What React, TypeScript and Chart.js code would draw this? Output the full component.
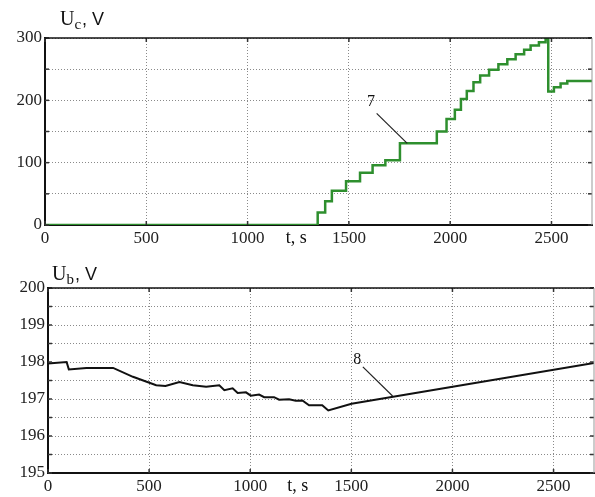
import React, { useEffect, useRef } from 'react';
import { Chart, registerables } from 'chart.js';
Chart.register(...registerables);

// Top panel: capacitor voltage Uc (stepped)
const ucTime = [0, 1346, 1383, 1416, 1486, 1555, 1617, 1680, 1752, 1934, 1982, 2023, 2053, 2082, 2115, 2148, 2192, 2238, 2282, 2323, 2365, 2397, 2438, 2471, 2484, 2512, 2545, 2578, 2700];
const ucVolt = [0, 20, 38, 55, 70, 84, 96, 104, 131, 150, 170, 185, 202, 215, 229, 240, 249, 258, 266, 274, 281, 288, 293, 298, 214, 221, 227, 231, 231];

// Bottom panel: battery voltage Ub
const ubTime = [0, 92, 103, 190, 322, 420, 535, 581, 650, 716, 782, 847, 872, 913, 938, 979, 1003, 1044, 1069, 1118, 1143, 1192, 1225, 1258, 1291, 1356, 1386, 1501, 2700];
const ubVolt = [197.96, 198.0, 197.8, 197.84, 197.84, 197.6, 197.37, 197.35, 197.46, 197.37, 197.33, 197.37, 197.24, 197.29, 197.16, 197.18, 197.09, 197.12, 197.05, 197.05, 196.98, 196.99, 196.95, 196.96, 196.83, 196.83, 196.69, 196.87, 197.97];

const xTicks = [0, 500, 1000, 1500, 2000, 2500];
const xMax = 2700;
const ucTicks = [0, 50, 100, 150, 200, 250, 300];
const ucLabels = ['0', '', '100', '', '200', '', '300'];
const ubTicks = [195, 195.5, 196, 196.5, 197, 197.5, 198, 198.5, 199, 199.5, 200];
const ubLabels = ['195', '', '196', '', '197', '', '198', '', '199', '', '200'];

// Annotations: label position and leader line (data coords)
const annot7 = { text: '7', label: [1609, 198], from: [1637, 179], to: [1788, 131] };
const annot8 = { text: '8', label: [1529, 198.05], from: [1557, 197.87], to: [1704, 197.08] };

const SERIF = '"Liberation Serif", "DejaVu Serif", serif';
const SANS = '"Liberation Sans", Arial, sans-serif';
const GRID = '#8a8a8a';

const overlay = {
  id: 'overlay',
  afterDraw(chart: any, _args: any, opts: any) {
    const { ctx, chartArea: a, scales } = chart;
    const x = scales.x;
    const y = scales.y;
    ctx.save();
    const seg = (x1: number, y1: number, x2: number, y2: number) => {
      ctx.beginPath();
      ctx.moveTo(x1, y1);
      ctx.lineTo(x2, y2);
      ctx.stroke();
    };
    // inward tick marks
    ctx.strokeStyle = '#333';
    ctx.lineWidth = 1.5;
    y.ticks.forEach((t: any) => {
      const py = y.getPixelForValue(t.value);
      seg(a.left, py, a.left + 4, py);
      seg(a.right - 4, py, a.right, py);
    });
    x.ticks.forEach((t: any) => {
      const px = x.getPixelForValue(t.value);
      seg(px, a.top, px, a.top + 4);
      seg(px, a.bottom - 4, px, a.bottom);
    });
    // frame: top and right
    ctx.strokeStyle = '#111';
    ctx.lineWidth = 1.6;
    seg(a.left, a.top, a.right, a.top);
    ctx.strokeStyle = '#999';
    ctx.lineWidth = 1;
    seg(a.right, a.top, a.right, a.bottom);

    // axis title with subscript
    ctx.fillStyle = '#111';
    ctx.textBaseline = 'alphabetic';
    ctx.textAlign = 'left';
    let tx = opts.titleX;
    const ty = opts.titleY;
    ctx.font = '20px ' + SERIF;
    ctx.fillText('U', tx, ty);
    tx += ctx.measureText('U').width;
    ctx.font = '15px ' + SERIF;
    ctx.fillText(opts.sub, tx, ty + 4);
    tx += ctx.measureText(opts.sub).width + 1;
    ctx.font = '18px ' + SANS;
    ctx.fillText(', V', tx, ty);

    // t, s label on x axis row
    ctx.font = '18px ' + SERIF;
    ctx.textAlign = 'center';
    ctx.fillText('t, s', x.getPixelForValue(opts.tAt), a.bottom + opts.tDy);

    // annotation
    const an = opts.annot;
    ctx.font = '16px ' + SERIF;
    ctx.textAlign = 'center';
    ctx.textBaseline = 'middle';
    ctx.fillText(an.text, x.getPixelForValue(an.label[0]), y.getPixelForValue(an.label[1]));
    ctx.strokeStyle = '#222';
    ctx.lineWidth = 1.2;
    seg(x.getPixelForValue(an.from[0]), y.getPixelForValue(an.from[1]), x.getPixelForValue(an.to[0]), y.getPixelForValue(an.to[1]));
    ctx.restore();
  },
};

function makeConfig(opts: any) {
  const data = opts.xs.map((t: number, i: number) => ({ x: t, y: opts.ys[i] }));
  return {
    type: 'line',
    data: {
      datasets: [
        {
          data,
          borderColor: opts.color,
          borderWidth: opts.lineWidth,
          pointRadius: 0,
          stepped: opts.stepped,
          tension: 0,
          fill: false,
        },
      ],
    },
    options: {
      animation: false,
      responsive: false,
      events: [],
      layout: { padding: { top: opts.padTop, right: opts.padRight, left: 0, bottom: 0 } },
      plugins: {
        legend: { display: false },
        tooltip: { enabled: false },
        overlay: opts.overlay,
      },
      scales: {
        x: {
          type: 'linear',
          min: 0,
          max: xMax,
          afterBuildTicks: (s: any) => {
            s.ticks = xTicks.map((v) => ({ value: v }));
          },
          afterFit: (s: any) => {
            s.height = opts.xHeight;
          },
          ticks: {
            autoSkip: false,
            maxRotation: 0,
            padding: 3,
            color: '#222',
            font: { family: SERIF, size: 17 },
            callback: (v: number) => String(v),
          },
          grid: { color: GRID, lineWidth: 1, drawTicks: false },
          border: { display: true, color: '#111', width: 2, dash: [1, 2] },
        },
        y: {
          type: 'linear',
          min: opts.yTicks[0],
          max: opts.yTicks[opts.yTicks.length - 1],
          afterBuildTicks: (s: any) => {
            s.ticks = opts.yTicks.map((v: number) => ({ value: v }));
          },
          afterFit: (s: any) => {
            s.width = opts.yWidth;
          },
          ticks: {
            autoSkip: false,
            padding: 3,
            color: '#222',
            font: { family: SERIF, size: 17 },
            callback: (_v: number, i: number) => opts.yLabels[i] ?? '',
          },
          grid: { color: GRID, lineWidth: 1, drawTicks: false },
          border: { display: true, color: '#111', width: 2, dash: [1, 2] },
        },
      },
    },
    plugins: [overlay],
  } as any;
}

function Panel(props: { height: number; cfg: any }) {
  const ref = useRef<HTMLCanvasElement>(null);
  useEffect(() => {
    if (!ref.current) return;
    const chart = new Chart(ref.current, props.cfg);
    return () => chart.destroy();
  }, []);
  return <canvas ref={ref} width={595} height={props.height} style={{ display: 'block', width: 595, height: props.height }} />;
}

const topCfg = makeConfig({
  xs: ucTime,
  ys: ucVolt,
  color: '#2e8f2e',
  lineWidth: 2.5,
  stepped: 'before',
  yTicks: ucTicks,
  yLabels: ucLabels,
  padTop: 38,
  padRight: 3,
  xHeight: 25,
  yWidth: 45,
  overlay: { titleX: 60, titleY: 25, sub: 'c', tAt: 1240, tDy: 18, annot: annot7 },
});

const bottomCfg = makeConfig({
  xs: ubTime,
  ys: ubVolt,
  color: '#111',
  lineWidth: 2,
  stepped: false,
  yTicks: ubTicks,
  yLabels: ubLabels,
  padTop: 38,
  padRight: 1,
  xHeight: 24,
  yWidth: 48,
  overlay: { titleX: 52, titleY: 30, sub: 'b', tAt: 1235, tDy: 18, annot: annot8 },
});

export default function App() {
  return (
    <div style={{ position: 'absolute', left: 0, top: 0, width: 595, height: 497, background: '#fff' }}>
      <Panel height={250} cfg={topCfg} />
      <Panel height={247} cfg={bottomCfg} />
    </div>
  );
}
